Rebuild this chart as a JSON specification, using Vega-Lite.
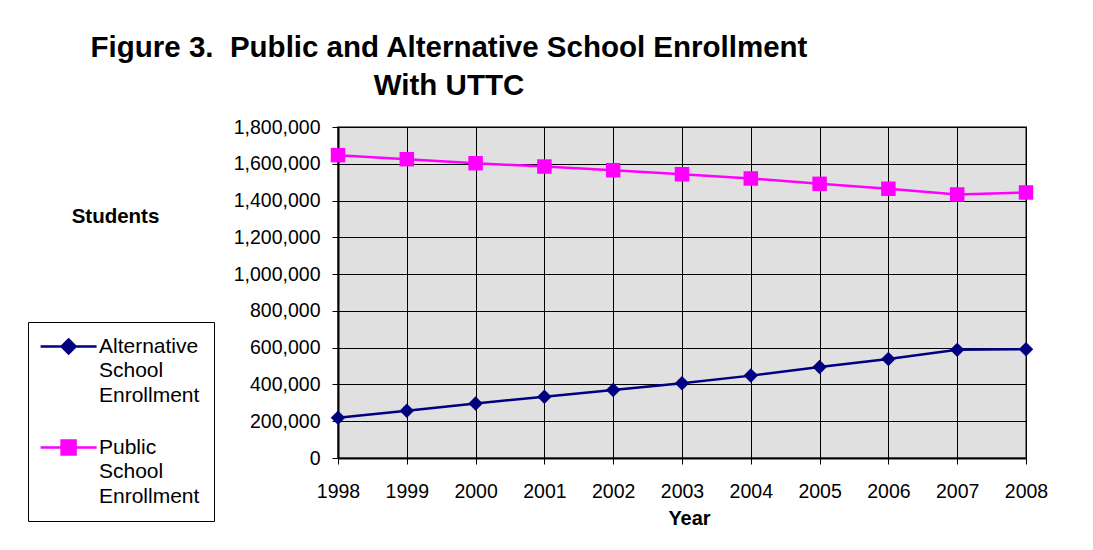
{
  "$schema": "https://vega.github.io/schema/vega-lite/v6.json",
  "width": 688,
  "height": 331,
  "autosize": {"type": "none"},
  "padding": {"left": 338, "top": 127, "right": 67, "bottom": 92},
  "background": "white",
  "config": {
    "font": "Liberation Sans",
    "view": {"fill": "#E0E0E0", "stroke": "#808080", "strokeWidth": 2},
    "style": {"guide-label": {"lineHeight": 24.5}}
  },
  "title": {
    "text": ["Figure 3.\u00a0 Public and Alternative School Enrollment", "With UTTC"],
    "frame": "group",
    "anchor": "middle",
    "dx": -233,
    "dy": 39,
    "offset": 32,
    "baseline": "alphabetic",
    "fontSize": 29.5,
    "fontWeight": "bold",
    "lineHeight": 38,
    "color": "black"
  },
  "data": {
    "values": [
      {"year": 1998, "series": "Alternative School Enrollment", "students": 219000},
      {"year": 1999, "series": "Alternative School Enrollment", "students": 257000},
      {"year": 2000, "series": "Alternative School Enrollment", "students": 297000},
      {"year": 2001, "series": "Alternative School Enrollment", "students": 333000},
      {"year": 2002, "series": "Alternative School Enrollment", "students": 370000},
      {"year": 2003, "series": "Alternative School Enrollment", "students": 406000},
      {"year": 2004, "series": "Alternative School Enrollment", "students": 448000},
      {"year": 2005, "series": "Alternative School Enrollment", "students": 495000},
      {"year": 2006, "series": "Alternative School Enrollment", "students": 539000},
      {"year": 2007, "series": "Alternative School Enrollment", "students": 588000},
      {"year": 2008, "series": "Alternative School Enrollment", "students": 592000},
      {"year": 1998, "series": "Public School Enrollment", "students": 1647000},
      {"year": 1999, "series": "Public School Enrollment", "students": 1625000},
      {"year": 2000, "series": "Public School Enrollment", "students": 1603000},
      {"year": 2001, "series": "Public School Enrollment", "students": 1585000},
      {"year": 2002, "series": "Public School Enrollment", "students": 1565000},
      {"year": 2003, "series": "Public School Enrollment", "students": 1543000},
      {"year": 2004, "series": "Public School Enrollment", "students": 1520000},
      {"year": 2005, "series": "Public School Enrollment", "students": 1491000},
      {"year": 2006, "series": "Public School Enrollment", "students": 1464000},
      {"year": 2007, "series": "Public School Enrollment", "students": 1433000},
      {"year": 2008, "series": "Public School Enrollment", "students": 1444000}
    ]
  },
  "encoding": {
    "x": {
      "field": "year",
      "type": "quantitative",
      "scale": {"domain": [1998, 2008], "nice": false, "zero": false},
      "axis": {
        "title": "Year",
        "values": [1998, 1999, 2000, 2001, 2002, 2003, 2004, 2005, 2006, 2007, 2008],
        "format": "d",
        "labelFontSize": 19.5,
        "labelColor": "black",
        "labelBaseline": "alphabetic",
        "labelPadding": 33,
        "labelFlush": false,
        "labelOverlap": false,
        "tickSize": 6,
        "tickColor": "black",
        "domainColor": "black",
        "domainWidth": 2,
        "grid": true,
        "gridColor": "black",
        "gridWidth": 1,
        "titleFontSize": 20,
        "titleFontWeight": "bold",
        "titleColor": "black",
        "titleX": 351,
        "titleY": 66,
        "titleBaseline": "alphabetic",
        "titleAlign": "center"
      }
    },
    "y": {
      "field": "students",
      "type": "quantitative",
      "scale": {"domain": [0, 1800000], "nice": false},
      "axis": {
        "title": "Students",
        "values": [0, 200000, 400000, 600000, 800000, 1000000, 1200000, 1400000, 1600000, 1800000],
        "format": ",d",
        "labelFontSize": 19.5,
        "labelColor": "black",
        "labelPadding": 12,
        "tickSize": 6,
        "tickColor": "black",
        "domainColor": "black",
        "domainWidth": 2,
        "grid": true,
        "gridColor": "black",
        "gridWidth": 1,
        "titleFontSize": 20.5,
        "titleFontWeight": "bold",
        "titleColor": "black",
        "titleAngle": 0,
        "titleX": -223,
        "titleY": 89,
        "titleAlign": "center",
        "titleBaseline": "middle"
      }
    },
    "color": {
      "field": "series",
      "type": "nominal",
      "scale": {
        "domain": ["Alternative School Enrollment", "Public School Enrollment"],
        "range": ["#000080", "#FF00FF"]
      },
      "legend": {
        "title": null,
        "orient": "none",
        "legendX": -310,
        "legendY": 195,
        "padding": 14,
        "strokeColor": "black",
        "fillColor": "white",
        "symbolSize": 196,
        "symbolStrokeWidth": 2.5,
        "symbolOpacity": 1,
        "labelFontSize": 21,
        "labelColor": "black",
        "labelLimit": 300,
        "labelOffset": 36,
        "rowPadding": 29,
        "labelExpr": "split(datum.label, ' ')"
      }
    }
  },
  "layer": [
    {
      "mark": {"type": "line", "strokeWidth": 2.5}
    },
    {
      "transform": [{"filter": "datum.series === 'Alternative School Enrollment'"}],
      "mark": {"type": "point", "shape": "diamond", "filled": true, "opacity": 1, "size": 210}
    },
    {
      "transform": [{"filter": "datum.series === 'Public School Enrollment'"}],
      "mark": {"type": "point", "shape": "square", "filled": true, "opacity": 1, "size": 210}
    },
    {
      "mark": {"type": "point", "filled": true, "opacity": 1, "size": 0},
      "encoding": {
        "shape": {
          "field": "series",
          "type": "nominal",
          "scale": {
            "domain": ["Alternative School Enrollment", "Public School Enrollment"],
            "range": ["M-1.7,0H6.3M2.3,-1L3.3,0L2.3,1L1.3,0Z", "M-1.7,0H6.3M1.3,-1H3.3V1H1.3Z"]
          },
          "legend": {"title": null}
        }
      }
    }
  ]
}
